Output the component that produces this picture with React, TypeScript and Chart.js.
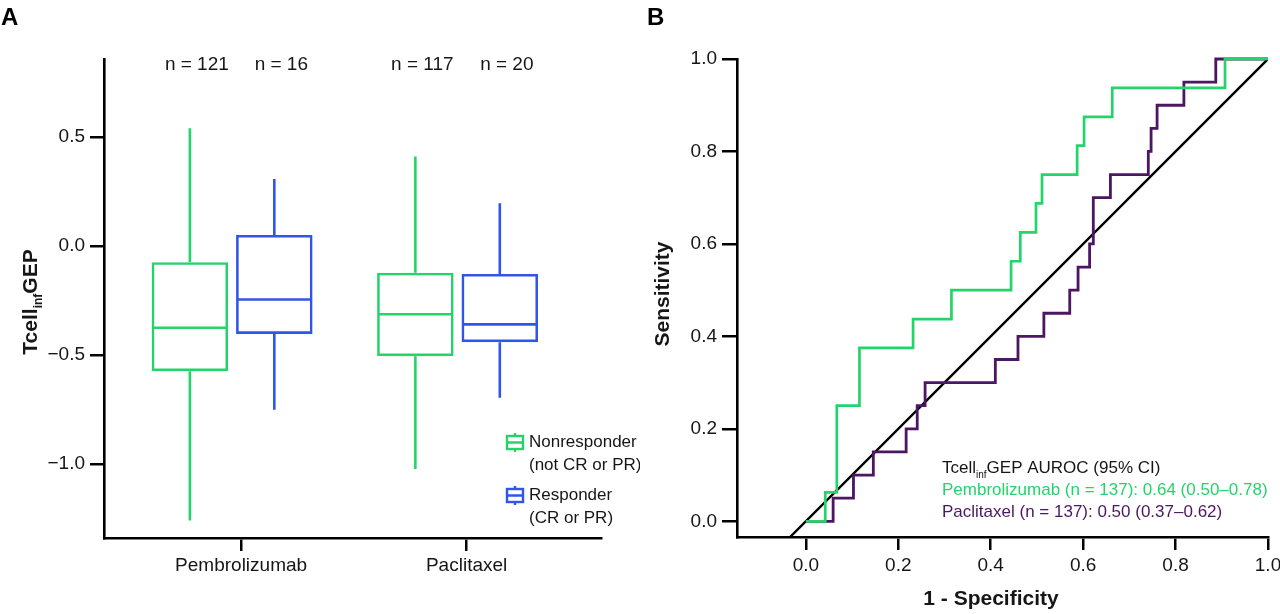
import React, { useEffect, useRef } from "react";
import { Chart, registerables } from "chart.js";

Chart.register(...registerables);

// ---------- Panel A data ----------
const treatments = ["Pembrolizumab", "Paclitaxel"];
const groupNames = ["Nonresponder", "Responder"];
const groupNotes = ["(not CR or PR)", "(CR or PR)"];
const nonresponderN = [121, 117];
const responderN = [16, 20];
const nonMin = [-1.259, -1.022];
const nonQ1 = [-0.574, -0.505];
const nonMedian = [-0.375, -0.313];
const nonQ3 = [-0.074, -0.122];
const nonMax = [0.54, 0.411];
const resMin = [-0.751, -0.696];
const resQ1 = [-0.403, -0.441];
const resMedian = [-0.245, -0.359];
const resQ3 = [0.051, -0.128];
const resMax = [0.308, 0.196];
const yTicksA = [-1.0, -0.5, 0.0, 0.5];

// ---------- Panel B data ----------
const pembroFpr = [0, 0.042, 0.067, 0.116, 0.232, 0.315, 0.444, 0.464, 0.498, 0.511, 0.587, 0.602, 0.663, 0.907, 1.0];
const pembroTpr = [0, 0.0625, 0.25, 0.375, 0.4375, 0.5, 0.5625, 0.625, 0.6875, 0.75, 0.8125, 0.875, 0.9375, 1.0, 1.0];
const paclFpr = [0, 0.059, 0.103, 0.146, 0.217, 0.241, 0.258, 0.41, 0.459, 0.515, 0.571, 0.589, 0.614, 0.622, 0.659, 0.741, 0.747, 0.76, 0.818, 0.887, 1.0];
const paclTpr = [0, 0.05, 0.1, 0.15, 0.2, 0.25, 0.3, 0.35, 0.4, 0.45, 0.5, 0.55, 0.6, 0.7, 0.75, 0.8, 0.85, 0.9, 0.95, 1.0, 1.0];
const diagX = [-0.05, 1.0];
const diagY = [-0.05, 1.0];
const rocTicks = [0, 0.2, 0.4, 0.6, 0.8, 1.0];
const aurocLines = [
  "Pembrolizumab (n = 137): 0.64 (0.50\u20130.78)",
  "Paclitaxel (n = 137): 0.50 (0.37\u20130.62)",
];

const GREEN = "#25d36b";
const BLUE = "#2f56e8";
const PURPLE = "#4c1760";
const TEXT = "#161616";
const FONT = '"Liberation Sans", Arial, Helvetica, sans-serif';

const boxStats = [
  { min: nonMin, med: nonMedian, max: nonMax, n: nonresponderN },
  { min: resMin, med: resMedian, max: resMax, n: responderN },
];

const boxPlugin = {
  id: "boxExtras",
  afterDatasetsDraw(chart: any) {
    const ctx = chart.ctx;
    const ys = chart.scales.y;
    const area = chart.chartArea;
    chart.data.datasets.forEach((ds: any, di: number) => {
      const meta = chart.getDatasetMeta(di);
      const st = boxStats[di];
      meta.data.forEach((el: any, i: number) => {
        const x = el.x;
        const half = el.width / 2;
        const pMin = ys.getPixelForValue(st.min[i]);
        const pMax = ys.getPixelForValue(st.max[i]);
        const pMed = ys.getPixelForValue(st.med[i]);
        const pQ1 = ys.getPixelForValue(ds.data[i].y[0]);
        const pQ3 = ys.getPixelForValue(ds.data[i].y[1]);
        ctx.save();
        ctx.strokeStyle = ds.borderColor;
        ctx.lineWidth = 2.6;
        ctx.lineCap = "butt";
        ctx.beginPath();
        ctx.moveTo(x - half + 1, pMed);
        ctx.lineTo(x + half - 1, pMed);
        ctx.moveTo(x, pQ3);
        ctx.lineTo(x, pMax);
        ctx.moveTo(x, pQ1);
        ctx.lineTo(x, pMin);
        ctx.stroke();
        ctx.fillStyle = TEXT;
        ctx.font = `19px ${FONT}`;
        ctx.textAlign = "center";
        ctx.textBaseline = "middle";
        ctx.fillText(`n = ${st.n[i]}`, x + 7, area.top + 6);
        ctx.restore();
      });
    });

    // legend
    ctx.save();
    chart.data.datasets.forEach((ds: any, di: number) => {
      const top = 436 + di * 53;
      const lx = 507;
      ctx.strokeStyle = ds.borderColor;
      ctx.lineWidth = 2.4;
      ctx.strokeRect(lx, top, 16, 13);
      ctx.beginPath();
      ctx.moveTo(lx, top + 6.5);
      ctx.lineTo(lx + 16, top + 6.5);
      ctx.moveTo(lx + 8, top - 3);
      ctx.lineTo(lx + 8, top);
      ctx.moveTo(lx + 8, top + 13);
      ctx.lineTo(lx + 8, top + 16);
      ctx.stroke();
      ctx.fillStyle = TEXT;
      ctx.font = `17px ${FONT}`;
      ctx.textAlign = "left";
      ctx.textBaseline = "middle";
      ctx.fillText(groupNames[di], 529, top + 6);
      ctx.fillText(groupNotes[di], 529, top + 29);
    });
    ctx.restore();

    // y title with subscript
    ctx.save();
    ctx.translate(37, 302);
    ctx.rotate(-Math.PI / 2);
    ctx.fillStyle = TEXT;
    ctx.textBaseline = "alphabetic";
    ctx.textAlign = "left";
    const big = `bold 21px ${FONT}`;
    const small = `bold 12px ${FONT}`;
    ctx.font = big;
    const w1 = ctx.measureText("Tcell").width;
    const w3 = ctx.measureText("GEP").width;
    ctx.font = small;
    const w2 = ctx.measureText("inf").width;
    let sx = -(w1 + w2 + w3) / 2;
    ctx.font = big;
    ctx.fillText("Tcell", sx, 0);
    sx += w1;
    ctx.font = small;
    ctx.fillText("inf", sx, 5);
    sx += w2;
    ctx.font = big;
    ctx.fillText("GEP", sx, 0);
    ctx.restore();

    // panel letter
    ctx.save();
    ctx.fillStyle = "#000";
    ctx.font = `bold 24px ${FONT}`;
    ctx.textAlign = "left";
    ctx.textBaseline = "alphabetic";
    ctx.fillText("A", 1, 25);
    ctx.restore();
  },
};

const rocPlugin = {
  id: "rocExtras",
  afterDraw(chart: any) {
    const ctx = chart.ctx;
    ctx.save();
    ctx.textAlign = "left";
    ctx.textBaseline = "alphabetic";
    const x0 = 302;
    ctx.fillStyle = TEXT;
    ctx.font = `17px ${FONT}`;
    const wT = ctx.measureText("Tcell").width;
    ctx.fillText("Tcell", x0, 473);
    ctx.font = `10px ${FONT}`;
    const wI = ctx.measureText("inf").width;
    ctx.fillText("inf", x0 + wT, 478);
    ctx.font = `17px ${FONT}`;
    ctx.fillText("GEP AUROC (95% CI)", x0 + wT + wI, 473);
    ctx.fillStyle = GREEN;
    ctx.fillText(aurocLines[0], x0, 495);
    ctx.fillStyle = PURPLE;
    ctx.fillText(aurocLines[1], x0, 517);

    // axis titles
    ctx.fillStyle = TEXT;
    ctx.font = `bold 21px ${FONT}`;
    ctx.textAlign = "center";
    ctx.textBaseline = "middle";
    ctx.fillText("1 - Specificity", 351, 599);
    ctx.save();
    ctx.translate(23, 294);
    ctx.rotate(-Math.PI / 2);
    ctx.fillText("Sensitivity", 0, 0);
    ctx.restore();

    ctx.fillStyle = "#000";
    ctx.font = `bold 24px ${FONT}`;
    ctx.textAlign = "left";
    ctx.textBaseline = "alphabetic";
    ctx.fillText("B", 7, 25);
    ctx.restore();
  },
};

const axisCommon = {
  grid: { drawOnChartArea: false, drawTicks: true, color: "#000", lineWidth: 2.5, offset: false },
  border: { display: true, color: "#000", width: 2.6 },
};

export default function App() {
  const refA = useRef<HTMLCanvasElement>(null);
  const refB = useRef<HTMLCanvasElement>(null);

  useEffect(() => {
    Chart.defaults.font.family = FONT;
    const tickShift = 0.04;
    const chartA = new Chart(refA.current as HTMLCanvasElement, {
      type: "bar",
      data: {
        datasets: [
          {
            label: groupNames[0],
            data: treatments.map((_, i) => ({ x: i + 1, y: [nonQ1[i], nonQ3[i]] })) as any,
            borderColor: GREEN,
            backgroundColor: "rgba(255,255,255,0)",
            borderWidth: 2.6,
            borderSkipped: false,
            categoryPercentage: 0.749,
            barPercentage: 0.906,
          },
          {
            label: groupNames[1],
            data: treatments.map((_, i) => ({ x: i + 1, y: [resQ1[i], resQ3[i]] })) as any,
            borderColor: BLUE,
            backgroundColor: "rgba(255,255,255,0)",
            borderWidth: 2.6,
            borderSkipped: false,
            categoryPercentage: 0.749,
            barPercentage: 0.906,
          },
        ],
      },
      options: {
        responsive: false,
        animation: false,
        layout: { padding: { top: 59, right: 39, left: 0, bottom: 0 } },
        plugins: { legend: { display: false }, tooltip: { enabled: false } },
        scales: {
          x: {
            type: "linear",
            min: 0.432,
            max: 2.636,
            offset: false,
            afterBuildTicks: (s: any) => {
              s.ticks = treatments.map((_, i) => ({ value: i + 1 + tickShift }));
            },
            afterFit: (s: any) => {
              s.height = 76;
              s.paddingLeft = 0;
              s.paddingRight = 0;
            },
            ticks: {
              callback: (_v: any, idx: number) => treatments[idx],
              font: { size: 19 },
              color: TEXT,
              padding: 3,
              maxRotation: 0,
              minRotation: 0,
              autoSkip: false,
            },
            ...axisCommon,
            grid: { ...axisCommon.grid, tickLength: 13 },
          } as any,
          y: {
            type: "linear",
            min: -1.339,
            max: 0.858,
            afterBuildTicks: (s: any) => {
              s.ticks = yTicksA.map((v) => ({ value: v }));
            },
            afterFit: (s: any) => {
              s.width = 104;
              s.paddingTop = 0;
              s.paddingBottom = 0;
            },
            ticks: {
              callback: (v: any) => (Number(v) < 0 ? "\u2212" : "") + Math.abs(Number(v)).toFixed(1),
              font: { size: 19 },
              color: TEXT,
              padding: 5,
            },
            ...axisCommon,
            grid: { ...axisCommon.grid, tickLength: 14 },
          } as any,
        },
      },
      plugins: [boxPlugin],
    } as any);

    const chartB = new Chart(refB.current as HTMLCanvasElement, {
      type: "line",
      data: {
        datasets: [
          {
            label: "Pembrolizumab",
            data: pembroFpr.map((x, i) => ({ x, y: pembroTpr[i] })),
            borderColor: GREEN,
            borderWidth: 2.7,
            stepped: "before",
            pointRadius: 0,
            fill: false,
            borderJoinStyle: "miter",
            clip: false,
          },
          {
            label: "Paclitaxel",
            data: paclFpr.map((x, i) => ({ x, y: paclTpr[i] })),
            borderColor: PURPLE,
            borderWidth: 2.8,
            stepped: "before",
            pointRadius: 0,
            fill: false,
            borderJoinStyle: "miter",
            clip: false,
          },
          {
            label: "Chance",
            data: diagX.map((x, i) => ({ x, y: diagY[i] })),
            borderColor: "#000",
            borderWidth: 2.4,
            pointRadius: 0,
            fill: false,
          },
        ],
      },
      options: {
        responsive: false,
        animation: false,
        layout: { padding: { top: 59, right: 12, left: 0, bottom: 0 } },
        plugins: { legend: { display: false }, tooltip: { enabled: false } },
        scales: {
          x: {
            type: "linear",
            min: -0.149,
            max: 1.0,
            afterBuildTicks: (s: any) => {
              s.ticks = rocTicks.map((v) => ({ value: v }));
            },
            afterFit: (s: any) => {
              s.height = 77;
              s.paddingLeft = 0;
              s.paddingRight = 0;
            },
            ticks: {
              callback: (v: any) => Number(v).toFixed(1),
              font: { size: 19 },
              color: TEXT,
              padding: 4,
              maxRotation: 0,
              minRotation: 0,
              autoSkip: false,
            },
            ...axisCommon,
            grid: { ...axisCommon.grid, tickLength: 13 },
          } as any,
          y: {
            type: "linear",
            min: -0.034,
            max: 1.0,
            afterBuildTicks: (s: any) => {
              s.ticks = rocTicks.map((v) => ({ value: v }));
            },
            afterFit: (s: any) => {
              s.width = 97;
              s.paddingTop = 0;
              s.paddingBottom = 0;
            },
            ticks: {
              callback: (v: any) => Number(v).toFixed(1),
              font: { size: 19 },
              color: TEXT,
              padding: 5,
            },
            ...axisCommon,
            grid: { ...axisCommon.grid, tickLength: 15 },
          } as any,
        },
      },
      plugins: [rocPlugin],
    } as any);

    return () => {
      chartA.destroy();
      chartB.destroy();
    };
  }, []);

  return (
    <div style={{ position: "absolute", left: 0, top: 0, width: 1280, height: 614, background: "#fff" }}>
      <canvas ref={refA} width={640} height={614} style={{ position: "absolute", left: 0, top: 0 }} />
      <canvas ref={refB} width={640} height={614} style={{ position: "absolute", left: 640, top: 0 }} />
    </div>
  );
}
